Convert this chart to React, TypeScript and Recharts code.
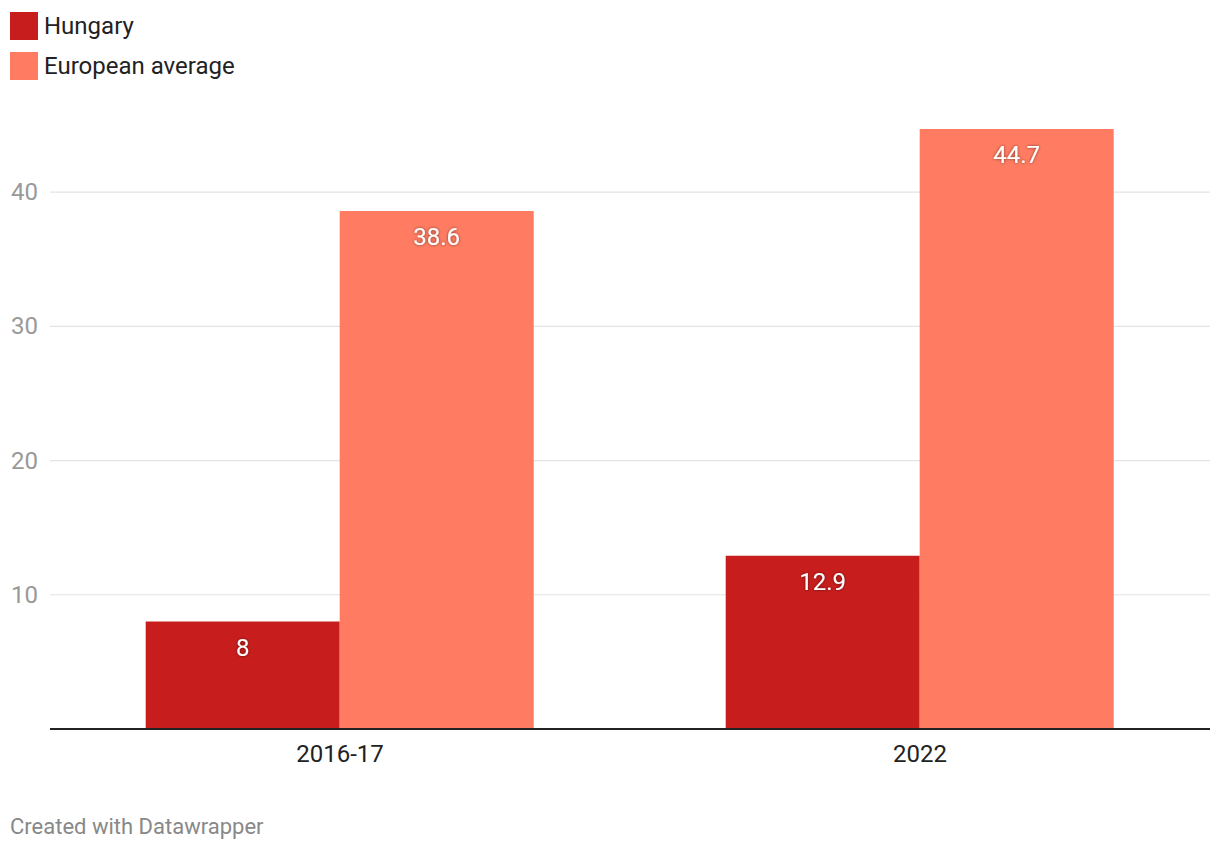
import { Bar, BarChart, CartesianGrid, LabelList, XAxis, YAxis } from "recharts";

const periods = ["2016-17", "2022"];
const hungary = [8, 12.9];
const europeanAverage = [38.6, 44.7];
const yTicks = [10, 20, 30, 40];

const data = periods.map((period, i) => ({
  period,
  hungary: hungary[i],
  europe: europeanAverage[i],
}));

const FONT = "Roboto, 'Noto Sans', sans-serif";
const RED = "#c71e1d";
const SALMON = "#ff7c62";

function ValueLabel(props: any) {
  const { x, y, width, value } = props;
  return (
    <text
      x={x + width / 2}
      y={y + 26}
      textAnchor="middle"
      dominantBaseline="central"
      fontFamily={FONT}
      fontSize={24}
      fill="#fff"
      filter="url(#labelShadow)"
    >
      {value}
    </text>
  );
}

function YTick(props: any) {
  const { y, payload } = props;
  return (
    <text x={38} y={y} textAnchor="end" dominantBaseline="central" fontFamily={FONT} fontSize={24} fill="#999">
      {payload.value}
    </text>
  );
}

function XTick(props: any) {
  const { x, y, payload } = props;
  return (
    <text x={x} y={y + 17} textAnchor="middle" dominantBaseline="central" fontFamily={FONT} fontSize={24} fill="#222">
      {payload.value}
    </text>
  );
}

export default function App() {
  return (
    <div style={{ position: "relative", width: 1220, height: 850, background: "#fff", fontFamily: FONT }}>
      <style>{"body{margin:0}"}</style>
      {[
        { name: "Hungary", color: RED, top: 12 },
        { name: "European average", color: SALMON, top: 52 },
      ].map((item) => (
        <div key={item.name} style={{ position: "absolute", left: 10, top: item.top, display: "flex", alignItems: "center", height: 28 }}>
          <div style={{ width: 28, height: 28, background: item.color }} />
          <span style={{ marginLeft: 6, fontSize: 24, color: "#222" }}>{item.name}</span>
        </div>
      ))}
      <div style={{ position: "absolute", left: 0, top: 0 }}>
        <BarChart
          width={1220}
          height={850}
          data={data}
          margin={{ top: 129, right: 10, left: 0, bottom: 61 }}
          barCategoryGap="16.5%"
          barGap={0}
        >
          <defs>
            <filter id="labelShadow" x="-20%" y="-40%" width="140%" height="180%">
              <feDropShadow dx="0" dy="0" stdDeviation="1.5" floodColor="#000" floodOpacity="0.55" />
            </filter>
          </defs>
          <CartesianGrid vertical={false} stroke="#e3e3e3" strokeWidth={1.2} horizontalValues={yTicks} />
          <XAxis
            dataKey="period"
            height={60}
            axisLine={{ stroke: "#222", strokeWidth: 2 }}
            tickLine={false}
            tick={<XTick />}
          />
          <YAxis
            width={50}
            domain={[0, 44.7]}
            ticks={yTicks}
            axisLine={false}
            tickLine={false}
            tick={<YTick />}
          />
          <Bar dataKey="hungary" fill={RED} isAnimationActive={false}>
            <LabelList dataKey="hungary" content={<ValueLabel />} />
          </Bar>
          <Bar dataKey="europe" fill={SALMON} isAnimationActive={false}>
            <LabelList dataKey="europe" content={<ValueLabel />} />
          </Bar>
        </BarChart>
      </div>
      <div style={{ position: "absolute", left: 10, top: 814, fontSize: 22, color: "#888" }}>Created with Datawrapper</div>
    </div>
  );
}
